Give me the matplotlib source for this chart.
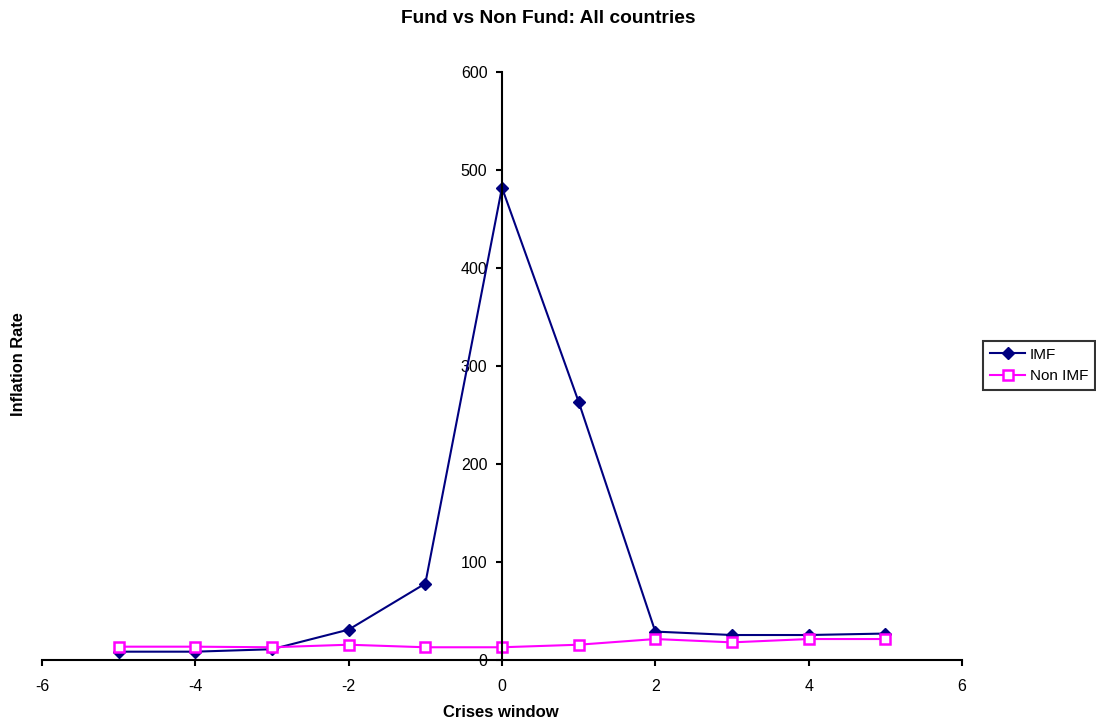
import matplotlib
matplotlib.use("Agg")
import matplotlib.pyplot as plt

plt.rcParams['font.family'] = ['Liberation Sans', 'DejaVu Sans']
plt.rcParams['axes.unicode_minus'] = False

window = [-5, -4, -3, -2, -1, 0, 1, 2, 3, 4, 5]
imf = [8.5, 8.5, 11, 31, 78, 482, 263.5, 29, 25.5, 25.5, 27]
non_imf = [13.6, 13.6, 13, 15.6, 13, 13, 15.6, 21.4, 18, 21.4, 21.4]

fig = plt.figure(figsize=(10.96, 7.26), dpi=100)
ax = fig.add_axes([0.0383, 0.0909, 0.8394, 0.8099])

ax.plot(window, imf, color='#000080', marker='D', markersize=6, linewidth=1.5,
        label='IMF', clip_on=False)
ax.plot(window, non_imf, color='#FF00FF', marker='s', markersize=6.5, markerfacecolor='white',
        markeredgecolor='#FF00FF', markeredgewidth=1.8, linewidth=1.5,
        label='Non IMF', clip_on=False)

ax.set_xlim(-6, 6)
ax.set_ylim(0, 600)
ax.set_xticks(range(-6, 7, 2))
ax.set_yticks(range(0, 601, 100))

ax.spines['left'].set_position(('data', 0))
ax.spines['top'].set_visible(False)
ax.spines['right'].set_visible(False)
for s in ('left', 'bottom'):
    ax.spines[s].set_linewidth(1.5)
    ax.spines[s].set_color('black')
ax.tick_params(axis='both', direction='out', length=4, width=1.5, labelsize=11.5)
ax.tick_params(axis='x', pad=9.5)
ax.tick_params(axis='y', pad=6.5)

fig.text(0.5, 0.974, 'Fund vs Non Fund: All countries', ha='center', va='center',
         fontsize=13.8, fontweight='bold')
fig.text(0.4567, 0.018, 'Crises window', ha='center', va='center', fontsize=12, fontweight='bold')
fig.text(0.0173, 0.499, 'Inflation Rate', ha='center', va='center', rotation=90,
         fontsize=11.8, fontweight='bold')

leg = fig.legend(loc='center left', bbox_to_anchor=(0.897, 0.4965), fontsize=11, frameon=True,
                 fancybox=False, edgecolor='black', handlelength=2.3, handletextpad=0.3,
                 borderpad=0.45, labelspacing=0.5, borderaxespad=0)
leg.get_frame().set_linewidth(1.5)

fig.savefig('out.png', dpi=100)
